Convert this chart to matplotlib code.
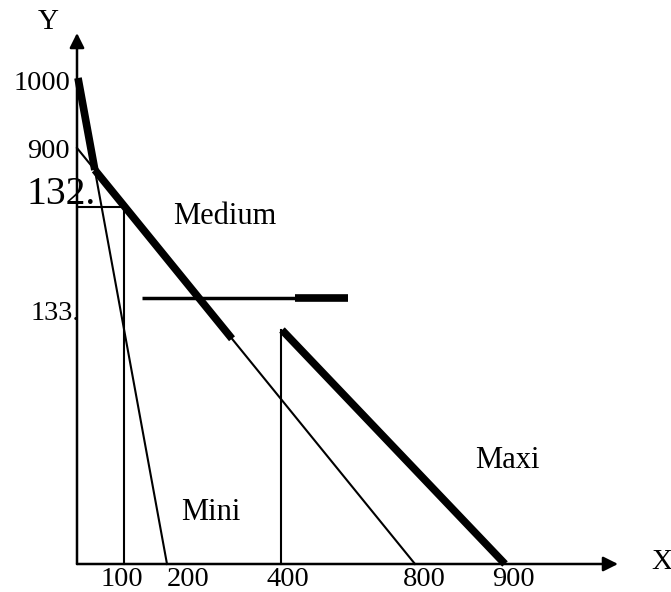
import matplotlib.pyplot as plt

plt.rcParams['font.family'] = ['Liberation Serif', 'DejaVu Serif']

# schematic diagram coordinates (origin at the axes corner)
mini_line = [(1, 486), (90, 0)]          # 1000 -> 200
medium_line = [(0, 416), (338, 0)]       # 900 -> 800
maxi_line = [(205, 234), (428, 0)]       # -> 900
medium_thick_end_x = 155
price_line = [(65, 266), (218, 266)]
price_line_thick = [(218, 266), (271, 266)]
guide_100 = [(0, 357), (47, 357), (47, 0)]
guide_400 = [(204, 234), (204, 0)]

x_tick_pos = [45, 111, 211, 347, 436]
x_tick_labels = ['100', '200', '400', '800', '900']
y_tick_pos = [481, 412]
y_tick_labels = ['1000', '900']

curve_labels = ['Medium', 'Mini', 'Maxi']
curve_label_pos = [(148, 347), (134, 52), (430, 103)]


def line_point(line, x):
    (x0, y0), (x1, y1) = line
    return y0 + (y1 - y0) * (x - x0) / (x1 - x0)


def intersect(a, b):
    (ax0, ay0), (ax1, ay1) = a
    (bx0, by0), (bx1, by1) = b
    ma = (ay1 - ay0) / (ax1 - ax0)
    mb = (by1 - by0) / (bx1 - bx0)
    x = (by0 - mb * bx0 - ay0 + ma * ax0) / (ma - mb)
    return x, ay0 + ma * (x - ax0)


fig = plt.figure(figsize=(6.71, 5.92), dpi=100)
ax = fig.add_axes([0, 0, 1, 1])
ax.set_xlim(-77, 594)
ax.set_ylim(-28, 564)
ax.axis('off')

thin = 1.5
thick = 5.5
ix, iy = intersect(mini_line, medium_line)

# Mini
ax.plot([mini_line[0][0], ix], [mini_line[0][1], iy], color='black', lw=thick, solid_capstyle='butt')
ax.plot([ix, mini_line[1][0]], [iy, mini_line[1][1]], color='black', lw=thin)
# Medium
ax.plot([medium_line[0][0], ix], [medium_line[0][1], iy], color='black', lw=thin)
ax.plot([ix, medium_thick_end_x], [iy, line_point(medium_line, medium_thick_end_x)],
        color='black', lw=thick, solid_capstyle='butt')
ax.plot([medium_thick_end_x, medium_line[1][0]],
        [line_point(medium_line, medium_thick_end_x), medium_line[1][1]], color='black', lw=thin)
# Maxi
ax.plot(*zip(*maxi_line), color='black', lw=thick, solid_capstyle='butt')

# price line
ax.plot(*zip(*price_line), color='black', lw=2.5, solid_capstyle='butt')
ax.plot(*zip(*price_line_thick), color='black', lw=5.5, solid_capstyle='butt')

# guides
ax.plot(*zip(*guide_100), color='black', lw=thin)
ax.plot(*zip(*guide_400), color='black', lw=thin)

# axes with arrows
arrow = dict(arrowstyle='-|>', color='black', lw=1.8, mutation_scale=22, shrinkA=0, shrinkB=0)
ax.annotate('', xy=(541, 0), xytext=(0, 0), arrowprops=arrow)
ax.annotate('', xy=(0, 531), xytext=(0, 0), arrowprops=arrow)
ax.text(585, 2, 'X', fontsize=21, ha='center', va='center')
ax.text(-29, 542, 'Y', fontsize=21, ha='center', va='center')

for xp, lab in zip(x_tick_pos, x_tick_labels):
    ax.text(xp, -16, lab, fontsize=20.5, ha='center', va='center')
for yp, lab in zip(y_tick_pos, y_tick_labels):
    ax.text(-7, yp, lab, fontsize=20.5, ha='right', va='center')
ax.text(19, 369, '132.', fontsize=28.5, ha='right', va='center')
ax.text(3, 251, '133.', fontsize=20.5, ha='right', va='center')

for lab, (xp, yp) in zip(curve_labels, curve_label_pos):
    ax.text(xp, yp, lab, fontsize=22, ha='center', va='center')

fig.savefig('out.png', dpi=100)
